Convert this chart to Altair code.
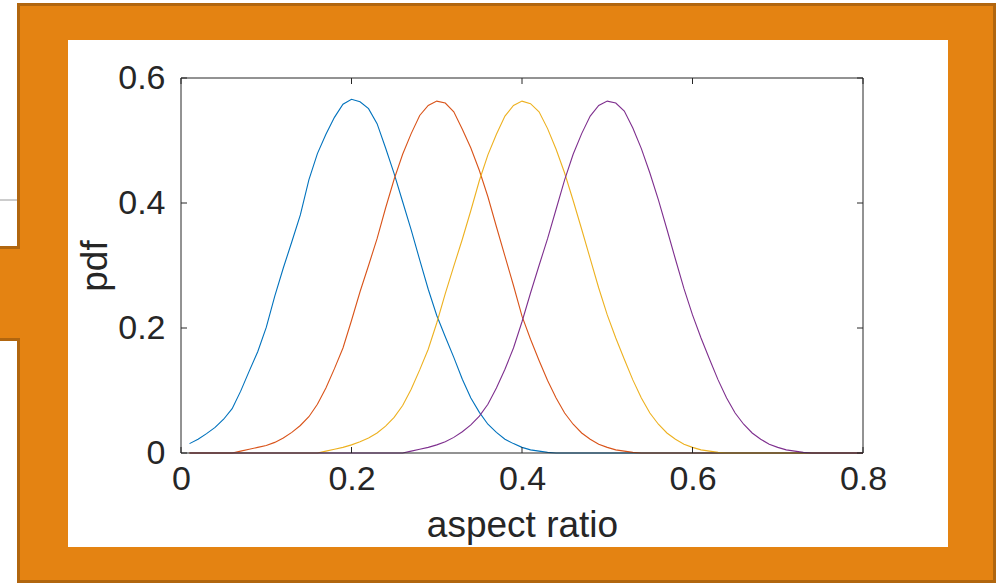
import altair as alt
import pandas as pd

# ---- data ----
X = [0.01, 0.02, 0.03, 0.04, 0.05, 0.06, 0.07, 0.08, 0.09, 0.10,
     0.11, 0.12, 0.13, 0.14, 0.15, 0.16, 0.17, 0.18, 0.19, 0.20,
     0.21, 0.22, 0.23, 0.24, 0.25, 0.26, 0.27, 0.28, 0.29, 0.30,
     0.31, 0.32, 0.33, 0.34, 0.35, 0.36, 0.37, 0.38, 0.39, 0.40,
     0.41, 0.42, 0.43, 0.44, 0.45, 0.46, 0.47, 0.48, 0.49, 0.50,
     0.51, 0.52, 0.53, 0.54, 0.55, 0.56, 0.57, 0.58, 0.59, 0.60,
     0.61, 0.62, 0.63, 0.64, 0.65, 0.66, 0.67, 0.68, 0.69, 0.70,
     0.71, 0.72, 0.73, 0.74, 0.75, 0.76, 0.77, 0.78, 0.79, 0.80]

PDF_1 = [0.015, 0.022, 0.031, 0.041, 0.054, 0.071, 0.099, 0.131, 0.162, 0.201,
         0.251, 0.296, 0.338, 0.381, 0.437, 0.479, 0.510, 0.537, 0.558, 0.566,
         0.562, 0.551, 0.527, 0.488, 0.447, 0.402, 0.357, 0.309, 0.262, 0.220,
         0.186, 0.153, 0.118, 0.088, 0.065, 0.046, 0.033, 0.022, 0.015, 0.009,
         0.005, 0.003, 0.001, 0, 0, 0, 0, 0, 0, 0,
         0, 0, 0, 0, 0, 0, 0, 0, 0, 0,
         0, 0, 0, 0, 0, 0, 0, 0, 0, 0,
         0, 0, 0, 0, 0, 0, 0, 0, 0, 0]

PDF_2 = [0, 0, 0, 0, 0, 0, 0.003, 0.006, 0.009, 0.012,
         0.017, 0.024, 0.033, 0.044, 0.058, 0.078, 0.104, 0.135, 0.168, 0.212,
         0.258, 0.300, 0.343, 0.392, 0.438, 0.478, 0.511, 0.540, 0.556, 0.563,
         0.560, 0.546, 0.518, 0.488, 0.452, 0.410, 0.362, 0.315, 0.268, 0.219,
         0.182, 0.148, 0.116, 0.088, 0.064, 0.046, 0.032, 0.022, 0.014, 0.009,
         0.005, 0.003, 0.001, 0, 0, 0, 0, 0, 0, 0,
         0, 0, 0, 0, 0, 0, 0, 0, 0, 0,
         0, 0, 0, 0, 0, 0, 0, 0, 0, 0]

PDF_3 = [0, 0, 0, 0, 0, 0, 0, 0, 0, 0,
         0, 0, 0, 0, 0, 0, 0.003, 0.006, 0.009, 0.013,
         0.018, 0.024, 0.032, 0.043, 0.057, 0.076, 0.102, 0.133, 0.166, 0.208,
         0.255, 0.299, 0.342, 0.388, 0.436, 0.477, 0.510, 0.539, 0.556, 0.563,
         0.559, 0.546, 0.519, 0.486, 0.448, 0.404, 0.358, 0.311, 0.264, 0.221,
         0.184, 0.150, 0.117, 0.088, 0.064, 0.046, 0.032, 0.022, 0.014, 0.009,
         0.005, 0.003, 0.001, 0, 0, 0, 0, 0, 0, 0,
         0, 0, 0, 0, 0, 0, 0, 0, 0, 0]

PDF_4 = [0, 0, 0, 0, 0, 0, 0, 0, 0, 0,
         0, 0, 0, 0, 0, 0, 0, 0, 0, 0,
         0, 0, 0, 0, 0, 0, 0.003, 0.006, 0.009, 0.013,
         0.018, 0.025, 0.034, 0.045, 0.059, 0.078, 0.104, 0.134, 0.168, 0.210,
         0.256, 0.300, 0.343, 0.390, 0.437, 0.478, 0.511, 0.539, 0.556, 0.563,
         0.560, 0.547, 0.520, 0.487, 0.448, 0.405, 0.358, 0.310, 0.263, 0.221,
         0.184, 0.150, 0.117, 0.088, 0.064, 0.046, 0.032, 0.022, 0.014, 0.009,
         0.005, 0.003, 0.001, 0, 0, 0, 0, 0, 0, 0]

SERIES = ["s1", "s2", "s3", "s4"]
COLORS = ["#0072BD", "#D95319", "#EDB120", "#7E2F8E"]

X_TICKS = [0, 0.2, 0.4, 0.6, 0.8]
Y_TICKS = [0, 0.2, 0.4, 0.6]
X_TITLE = "aspect ratio"
Y_TITLE = "pdf"

# ---- build tables ----
rows = []
for name, vals in zip(SERIES, [PDF_1, PDF_2, PDF_3, PDF_4]):
    for xv, yv in zip(X, vals):
        rows.append({"x": xv, "pdf": yv, "series": name})
df = pd.DataFrame(rows)

one = pd.DataFrame({"k": [0]})
xt = pd.DataFrame({"x": X_TICKS})
yt = pd.DataFrame({"pdf": Y_TICKS})
box_df = pd.DataFrame({"x": [X_TICKS[0]], "x2": [X_TICKS[-1]],
                       "pdf": [Y_TICKS[0]], "pdf2": [Y_TICKS[-1]]})

W, H = 682, 375
FONT = "Liberation Sans"
TXT = "#262626"
ORANGE = "#E48312"
DARK = "#B1660F"

xs = alt.Scale(domain=[X_TICKS[0], X_TICKS[-1]], nice=False, zero=False)
ys = alt.Scale(domain=[Y_TICKS[0], Y_TICKS[-1]], nice=False)

AX = alt.Axis(values=X_TICKS, format="~g", title=X_TITLE, grid=False,
              domain=False, ticks=False, labelPadding=9, labelFlush=False,
              labelFont=FONT, labelFontSize=34, labelColor=TXT,
              titleFont=FONT, titleFontSize=37, titleFontWeight="normal",
              titleColor=TXT, titlePadding=11, zindex=1)
AY = alt.Axis(values=Y_TICKS, format="~g", title=Y_TITLE, grid=False,
              domain=False, ticks=False, labelPadding=16, labelFlush=False,
              labelFont=FONT, labelFontSize=34, labelColor=TXT,
              titleFont=FONT, titleFontSize=37, titleFontWeight="normal",
              titleColor=TXT, titlePadding=3, zindex=1)


def rect(x1, x2, y1, y2, color):
    return alt.Chart(one).mark_rect(color=color, clip=False).encode(
        x=alt.value(x1), x2=alt.value(x2), y=alt.value(y1), y2=alt.value(y2))


# decorative screenshot frame (relative to plot origin)
frame = [
    rect(-164, 815, -75, 505, DARK),
    rect(-161, 812, -72, 502, ORANGE),
    rect(-181, -161, 168, 263, DARK),
    rect(-181, -159, 171, 260, ORANGE),
    rect(-113, 767, -38, 469, "white"),
]
gray_line = alt.Chart(one).mark_rule(color="#9a9a9a", strokeWidth=1, clip=False).encode(
    x=alt.value(-181), x2=alt.value(-164), y=alt.value(122))

lines = alt.Chart(df).mark_line(strokeWidth=1.1, clip=False).encode(
    x=alt.X("x:Q", scale=xs, axis=AX),
    y=alt.Y("pdf:Q", scale=ys, axis=AY),
    color=alt.Color("series:N", scale=alt.Scale(domain=SERIES, range=COLORS), legend=None),
)

box = alt.Chart(box_df).mark_rect(fillOpacity=0, stroke=TXT, strokeWidth=1, clip=False).encode(
    x=alt.X("x:Q", scale=xs, axis=AX), x2="x2:Q",
    y=alt.Y("pdf:Q", scale=ys, axis=AY), y2="pdf2:Q")

tick_bottom = alt.Chart(xt).mark_rule(color=TXT, strokeWidth=1).encode(
    x=alt.X("x:Q", scale=xs, axis=AX), y=alt.value(H), y2=alt.value(H - 6))
tick_top = alt.Chart(xt).mark_rule(color=TXT, strokeWidth=1).encode(
    x=alt.X("x:Q", scale=xs, axis=AX), y=alt.value(0), y2=alt.value(6))
tick_left = alt.Chart(yt).mark_rule(color=TXT, strokeWidth=1).encode(
    y=alt.Y("pdf:Q", scale=ys, axis=AY), x=alt.value(0), x2=alt.value(6))
tick_right = alt.Chart(yt).mark_rule(color=TXT, strokeWidth=1).encode(
    y=alt.Y("pdf:Q", scale=ys, axis=AY), x=alt.value(W), x2=alt.value(W - 6))

chart = alt.layer(*frame, gray_line, lines, box, tick_bottom, tick_top, tick_left, tick_right).properties(
    width=W, height=H,
    padding={"left": 181, "top": 78, "right": 140, "bottom": 130},
    autosize=alt.AutoSizeParams(type="none"),
    background="white",
).configure_view(stroke=None)

chart.save("out.html", embed_options={"renderer": "svg", "actions": False})
